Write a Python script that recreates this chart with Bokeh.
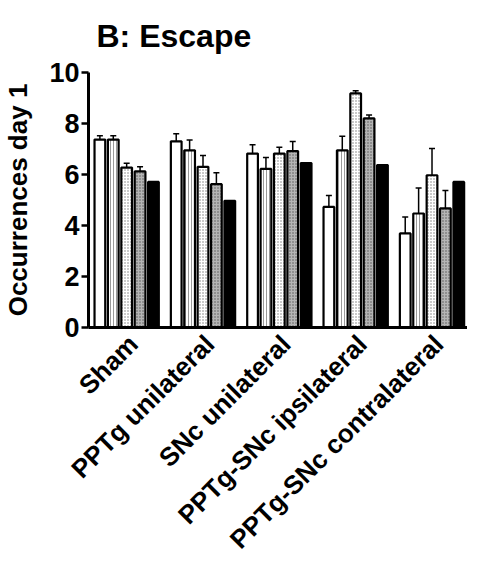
import math
from bokeh.plotting import figure
from bokeh.models import ColumnDataSource, Range1d, FixedTicker, Whisker, TeeHead
from bokeh.embed import file_html
from bokeh.resources import INLINE

# ---- data ----
groups = ["Sham", "PPTg unilateral", "SNc unilateral",
          "PPTg-SNc ipsilateral", "PPTg-SNc contralateral"]
# five bars per group (series 1..5)
sham_vals = [7.37, 7.37, 6.27, 6.12, 5.71]
sham_err = [0.15, 0.15, 0.17, 0.18, 0.0]
pptg_vals = [7.30, 6.95, 6.30, 5.62, 4.97]
pptg_err = [0.30, 0.40, 0.45, 0.45, 0.0]
snc_vals = [6.82, 6.22, 6.82, 6.92, 6.45]
snc_err = [0.35, 0.45, 0.25, 0.37, 0.0]
ipsi_vals = [4.73, 6.95, 9.18, 8.20, 6.37]
ipsi_err = [0.45, 0.55, 0.10, 0.13, 0.0]
contra_vals = [3.69, 4.47, 5.97, 4.67, 5.71]
contra_err = [0.64, 1.00, 1.05, 0.70, 0.0]
y_ticks = [0, 2, 4, 6, 8, 10]

group_vals = [sham_vals, pptg_vals, snc_vals, ipsi_vals, contra_vals]
group_errs = [sham_err, pptg_err, snc_err, ipsi_err, contra_err]

# ---- layout constants ----
BAR_STEP = 10
GROUP_STEP = 57
BAR_W = 8
LABEL_SHIFT = 5
FONT = "Liberation Sans"

p = figure(width=467, height=571, output_backend="svg", toolbar_location=None,
           x_range=Range1d(-8.5, 274.5), y_range=Range1d(0, 10),
           min_border_left=84, min_border_right=0, min_border_top=72,
           min_border_bottom=244)
p.grid.visible = False
p.outline_line_color = None

styles = [
    dict(fill_color="white"),
    dict(fill_color="white", hatch_pattern="vertical_line", hatch_color="#9a9a9a",
         hatch_scale=3, hatch_weight=1),
    dict(fill_color="white", hatch_pattern="dot", hatch_color="#7a7a7a",
         hatch_scale=3, hatch_weight=1),
    dict(fill_color="#b5b5b5", hatch_pattern="dot", hatch_color="#555555",
         hatch_scale=3, hatch_weight=1),
    dict(fill_color="black"),
]

for j in range(5):
    xs = [GROUP_STEP * i + BAR_STEP * j for i in range(len(groups))]
    tops = [group_vals[i][j] for i in range(len(groups))]
    errs = [group_errs[i][j] for i in range(len(groups))]
    src = ColumnDataSource(dict(x=xs, top=tops, upper=[t + e for t, e in zip(tops, errs)]))
    if j < 4:
        w = Whisker(base="x", lower="top", upper="upper", source=src,
                    lower_head=None,
                    upper_head=TeeHead(size=6, line_width=1.5, line_color="black"),
                    line_width=1.5, line_color="black")
        p.add_layout(w)
    p.vbar(x="x", top="top", bottom=0, width=BAR_W, source=src,
           line_color="black", line_width=2.2, **styles[j])

# ---- axes ----
centers = [GROUP_STEP * i + 2 * BAR_STEP + LABEL_SHIFT for i in range(len(groups))]
xa = p.xaxis[0]
xa.ticker = FixedTicker(ticks=centers)
xa.major_label_overrides = {c: g for c, g in zip(centers, groups)}
xa.major_label_orientation = math.pi / 4
xa.major_tick_in = 0
xa.major_tick_out = 0
xa.minor_tick_line_color = None
xa.axis_line_width = 3
xa.major_label_text_font = FONT
xa.major_label_text_font_style = "bold"
xa.major_label_text_font_size = "26px"
xa.major_label_text_color = "black"
xa.major_label_standoff = 12

ya = p.yaxis[0]
ya.ticker = FixedTicker(ticks=y_ticks)
ya.major_tick_in = 0
ya.major_tick_out = 7
ya.major_tick_line_width = 2.5
ya.minor_tick_line_color = None
ya.axis_line_width = 3
ya.major_label_text_font = FONT
ya.major_label_text_font_style = "bold"
ya.major_label_text_font_size = "27px"
ya.major_label_text_color = "black"
ya.major_label_standoff = 2
ya.axis_label = "Occurrences day 1"
ya.axis_label_text_font = FONT
ya.axis_label_text_font_style = "bold"
ya.axis_label_text_font_size = "26px"
ya.axis_label_text_color = "black"
ya.axis_label_standoff = 13

p.title.text = "B: Escape"
p.title.text_font = FONT
p.title.text_font_style = "bold"
p.title.text_font_size = "32px"
p.title.text_color = "black"
p.title.offset = 8
p.title.standoff = 34
p.title.vertical_align = "top"

open("out.html", "w").write(file_html(p, INLINE))
